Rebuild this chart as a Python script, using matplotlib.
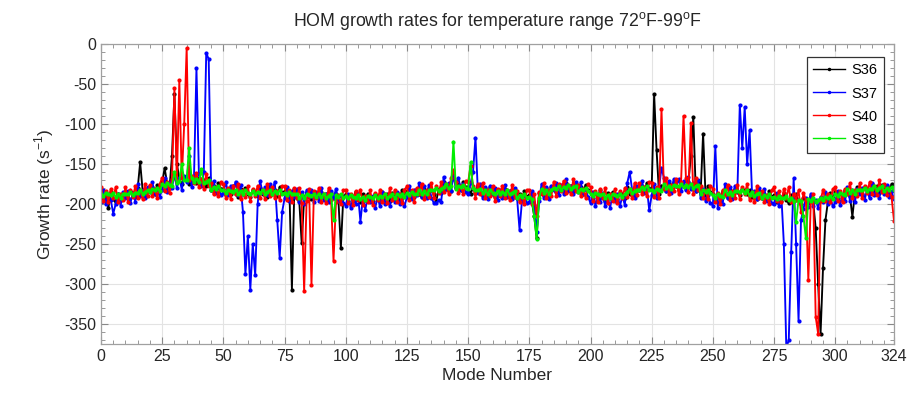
import matplotlib
matplotlib.use("Agg")
import matplotlib.pyplot as plt
from matplotlib.ticker import MultipleLocator, FixedLocator

plt.rcParams['font.family'] = ['Liberation Sans', 'DejaVu Sans']
plt.rcParams['axes.unicode_minus'] = False

modes = list(range(0, 325))

s36 = [
 -188,-196,-189,-205,-185,-194,-198,-188,-195,-187,-188,-192,-184,-186,-191,-180,-148,-183,-191,-181,-184,-179,-187,-176,-183,
 -173,-155,-174,-180,-140,-63,-150,-168,-175,-167,-171,-175,-167,-169,-174,-167,-175,-170,-178,-168,-182,-177,-185,-174,-181,
 -181,-189,-182,-188,-178,-187,-191,-181,-188,-180,-187,-191,-183,-185,-190,-180,-188,-183,-191,-181,-187,-182,-190,-179,-186,
 -184,-192,-185,-307,-181,-192,-196,-249,-193,-185,-190,-194,-186,-188,-193,-185,-193,-188,-196,-186,-192,-187,-195,-255,-191,
 -188,-196,-189,-195,-185,-194,-198,-188,-195,-187,-192,-196,-188,-190,-195,-185,-193,-188,-196,-186,-191,-186,-194,-183,-190,
 -184,-192,-185,-191,-181,-187,-191,-181,-188,-180,-183,-187,-196,-181,-186,-173,-181,-176,-184,-160,-180,-175,-183,-172,-179,
 -179,-187,-180,-186,-176,-186,-190,-180,-187,-179,-187,-191,-183,-185,-190,-181,-189,-184,-192,-182,-192,-187,-195,-184,-191,
 -189,-197,-215,-243,-186,-186,-190,-180,-187,-179,-181,-185,-177,-179,-184,-174,-182,-177,-185,-175,-184,-179,-187,-176,-183,
 -185,-193,-186,-192,-182,-192,-196,-186,-193,-185,-190,-194,-186,-188,-193,-179,-187,-182,-190,-180,-182,-177,-185,-174,-181,
 -180,-63,-133,-187,-177,-180,-184,-174,-181,-173,-178,-182,-174,-176,-181,-173,-140,-91,-184,-174,-186,-112,-189,-178,-185,
 -187,-195,-188,-194,-184,-188,-192,-182,-189,-181,-185,-189,-181,-183,-188,-183,-191,-186,-194,-184,-192,-187,-195,-184,-191,
 -189,-197,-190,-196,-186,-195,-199,-189,-196,-188,-196,-200,-192,-194,-199,-190,-198,-230,-300,-362,-280,-220,-197,-186,-193,
 -185,-193,-186,-192,-182,-186,-190,-216,-187,-179,-183,-187,-179,-181,-186,-175,-183,-178,-186,-176,-183,-178,-186,-175,-182,
]

s37 = [
 -197,-183,-200,-188,-195,-212,-200,-187,-202,-185,-192,-184,-199,-186,-197,-175,-190,-183,-193,-179,-185,-173,-188,-181,-191,
 -182,-168,-185,-173,-180,-163,-180,-167,-182,-165,-172,-140,-179,-166,-30,-162,-177,-160,-11,-19,-183,-171,-186,-179,-189,
 -186,-172,-189,-177,-184,-172,-189,-176,-210,-288,-240,-307,-250,-289,-200,-171,-186,-179,-189,-175,-184,-172,-220,-267,-210,
 -193,-179,-196,-184,-191,-181,-198,-185,-200,-183,-191,-183,-198,-185,-196,-180,-195,-188,-198,-184,-193,-181,-196,-189,-199,
 -202,-188,-205,-193,-200,-188,-222,-192,-207,-190,-198,-190,-205,-192,-203,-185,-200,-193,-203,-189,-197,-185,-200,-193,-203,
 -191,-177,-194,-182,-189,-174,-191,-178,-193,-176,-192,-199,-199,-195,-197,-166,-181,-174,-184,-165,-179,-167,-182,-175,-185,
 -188,-174,-160,-117,-186,-175,-192,-179,-194,-177,-188,-180,-195,-182,-193,-176,-191,-184,-194,-180,-193,-232,-196,-189,-199,
 -198,-184,-201,-235,-196,-175,-192,-179,-194,-177,-182,-174,-189,-176,-187,-169,-184,-177,-187,-173,-185,-173,-188,-181,-191,
 -199,-185,-202,-190,-197,-186,-203,-190,-205,-188,-196,-188,-203,-190,-201,-174,-160,-182,-192,-178,-183,-171,-186,-179,-208,
 -189,-175,-192,-180,-155,-167,-184,-171,-186,-169,-177,-169,-184,-171,-182,-166,-181,-174,-184,-170,-193,-181,-196,-189,-199,
 -202,-128,-205,-193,-200,-175,-192,-179,-194,-177,-184,-76,-130,-79,-150,-108,-187,-184,-194,-180,-193,-181,-196,-189,-199,
 -200,-186,-203,-191,-250,-380,-370,-260,-168,-250,-346,-220,-206,-193,-204,-187,-202,-195,-205,-191,-197,-185,-200,-193,-203,
 -198,-184,-201,-189,-196,-179,-196,-183,-198,-181,-188,-180,-195,-182,-193,-174,-189,-182,-192,-178,-188,-176,-191,-184,-194,
]

s40 = [
 -179,-196,-184,-198,-181,-192,-179,-198,-187,-195,-179,-197,-182,-191,-178,-192,-182,-194,-175,-190,-176,-190,-181,-192,-175,
 -167,-184,-172,-186,-169,-55,-172,-45,-168,-100,-5,-170,-165,-174,-161,-179,-169,-181,-162,-177,-174,-188,-179,-190,-173,
 -175,-192,-180,-194,-177,-188,-175,-194,-183,-191,-178,-196,-181,-190,-177,-192,-182,-194,-175,-190,-179,-193,-184,-195,-178,
 -178,-195,-183,-197,-180,-193,-180,-199,-309,-196,-181,-301,-184,-193,-180,-197,-187,-199,-180,-195,-271,-198,-189,-200,-183,
 -182,-199,-187,-201,-184,-195,-182,-201,-190,-198,-183,-201,-186,-195,-182,-197,-187,-199,-180,-195,-183,-197,-188,-199,-182,
 -178,-195,-183,-197,-180,-188,-175,-194,-183,-191,-174,-192,-177,-186,-173,-185,-175,-187,-168,-158,-172,-186,-177,-188,-171,
 -173,-152,-178,-192,-175,-187,-174,-193,-182,-190,-178,-196,-181,-190,-177,-193,-183,-195,-176,-191,-184,-198,-189,-200,-183,
 -183,-200,-188,-215,-185,-187,-174,-193,-182,-190,-172,-190,-175,-184,-171,-186,-176,-188,-169,-184,-176,-190,-181,-192,-175,
 -179,-196,-184,-198,-181,-193,-180,-199,-188,-196,-181,-199,-184,-193,-180,-191,-181,-193,-174,-189,-174,-188,-179,-190,-173,
 -174,-191,-179,-193,-81,-181,-168,-187,-176,-184,-169,-187,-172,-90,-168,-185,-99,-187,-168,-183,-178,-192,-183,-194,-177,
 -181,-198,-186,-200,-183,-189,-176,-195,-184,-192,-176,-194,-179,-188,-175,-195,-185,-197,-178,-193,-184,-198,-189,-200,-183,
 -179,-196,-184,-198,-181,-192,-179,-198,-187,-195,-183,-210,-186,-195,-295,-198,-188,-341,-362,-196,-182,-196,-187,-198,-181,
 -179,-196,-184,-198,-181,-187,-174,-193,-182,-190,-174,-192,-177,-186,-173,-187,-177,-189,-170,-185,-175,-189,-180,-191,-221,
]

s38 = [
 -187,-190,-186,-188,-189,-186,-191,-188,-192,-187,-187,-188,-185,-189,-186,-186,-182,-187,-185,-183,-185,-181,-183,-180,-184,
 -175,-178,-174,-176,-177,-160,-174,-171,-150,-170,-170,-130,-168,-172,-169,-173,-156,-174,-172,-170,-183,-179,-181,-178,-182,
 -183,-186,-182,-184,-185,-182,-187,-184,-188,-183,-186,-187,-184,-188,-185,-186,-182,-187,-185,-183,-188,-184,-186,-183,-187,
 -186,-189,-185,-187,-188,-187,-192,-189,-193,-188,-189,-190,-187,-191,-188,-191,-187,-192,-190,-188,-220,-189,-191,-188,-192,
 -190,-193,-189,-191,-192,-189,-194,-191,-195,-190,-191,-192,-189,-193,-190,-191,-187,-192,-190,-188,-192,-188,-190,-187,-191,
 -186,-189,-185,-187,-188,-182,-187,-184,-188,-183,-182,-183,-180,-184,-181,-179,-175,-180,-178,-122,-181,-177,-179,-176,-180,
 -181,-148,-180,-182,-183,-181,-186,-183,-187,-182,-186,-187,-184,-188,-185,-187,-183,-188,-186,-184,-193,-189,-191,-188,-192,
 -191,-194,-215,-244,-193,-181,-186,-183,-187,-182,-180,-181,-178,-182,-179,-180,-176,-181,-179,-177,-185,-181,-183,-180,-184,
 -187,-190,-186,-188,-189,-187,-192,-189,-193,-188,-189,-190,-187,-191,-188,-185,-181,-186,-184,-182,-183,-179,-181,-178,-182,
 -182,-185,-181,-183,-184,-175,-180,-177,-181,-176,-177,-178,-175,-179,-176,-179,-175,-180,-178,-176,-187,-183,-185,-182,-186,
 -189,-192,-188,-190,-191,-183,-188,-185,-189,-184,-184,-185,-182,-186,-183,-189,-185,-190,-188,-186,-193,-189,-191,-188,-192,
 -191,-194,-190,-192,-193,-190,-195,-192,-196,-222,-195,-196,-215,-243,-194,-196,-192,-197,-195,-193,-195,-191,-193,-190,-194,
 -187,-190,-186,-188,-189,-181,-186,-183,-187,-182,-182,-183,-180,-184,-181,-181,-177,-182,-180,-178,-184,-180,-182,-179,-183,
]

series_names = ['S36', 'S37', 'S40', 'S38']
series_values = [s36, s37, s40, s38]
series_colors = ['#000000', '#0000ff', '#ff0000', '#00ee00']

x_ticks = [0, 25, 50, 75, 100, 125, 150, 175, 200, 225, 250, 275, 300, 324]
y_ticks = [0, -50, -100, -150, -200, -250, -300, -350]

fig = plt.figure(figsize=(9.07, 3.96), dpi=100)
ax = fig.add_axes([101/907, 52/396, 793/907, 300/396])

handles = []
for name, vals, col in zip(series_names, series_values, series_colors):
    ax.plot(modes, vals, color=col, lw=1.35, marker='.', ms=4.0)
    h, = ax.plot([], [], color=col, lw=1.0, marker='.', ms=3.0, label=name)
    handles.append(h)

ax.set_xlim(0, 324)
ax.set_ylim(-375, 0)
ax.xaxis.set_major_locator(FixedLocator(x_ticks))
ax.yaxis.set_major_locator(FixedLocator(y_ticks))
ax.xaxis.set_minor_locator(MultipleLocator(5))
ax.yaxis.set_minor_locator(MultipleLocator(10))
ax.grid(True, which='major', color='#e3e3e3', lw=0.8)
ax.set_axisbelow(True)
ax.tick_params(which='both', direction='in', top=True, right=True, colors='#888888',
               labelcolor='#262626', labelsize=11.5)
ax.tick_params(which='major', length=5)
ax.tick_params(which='minor', length=3)
for sp in ax.spines.values():
    sp.set_color('#a0a0a0')
    sp.set_linewidth(0.9)

ax.set_title('HOM growth rates for temperature range 72$^{\\mathregular{o}}$F-99$^{\\mathregular{o}}$F',
             fontsize=12.8, color='#262626', pad=13)
ax.set_xlabel('Mode Number', fontsize=12.5, color='#262626', labelpad=3)
ax.set_ylabel('Growth rate (s$^{\\mathregular{-1}}$)', fontsize=12.5, color='#262626', labelpad=6)

leg = ax.legend(handles=handles, loc='upper right', bbox_to_anchor=(0.987, 0.957),
                borderaxespad=0, fontsize=10.5, fancybox=False, framealpha=1,
                edgecolor='#333333', handlelength=2.2, borderpad=0.45, labelspacing=0.62,
                handletextpad=0.4)
leg.get_frame().set_linewidth(0.9)

fig.savefig('out.png', dpi=100)
